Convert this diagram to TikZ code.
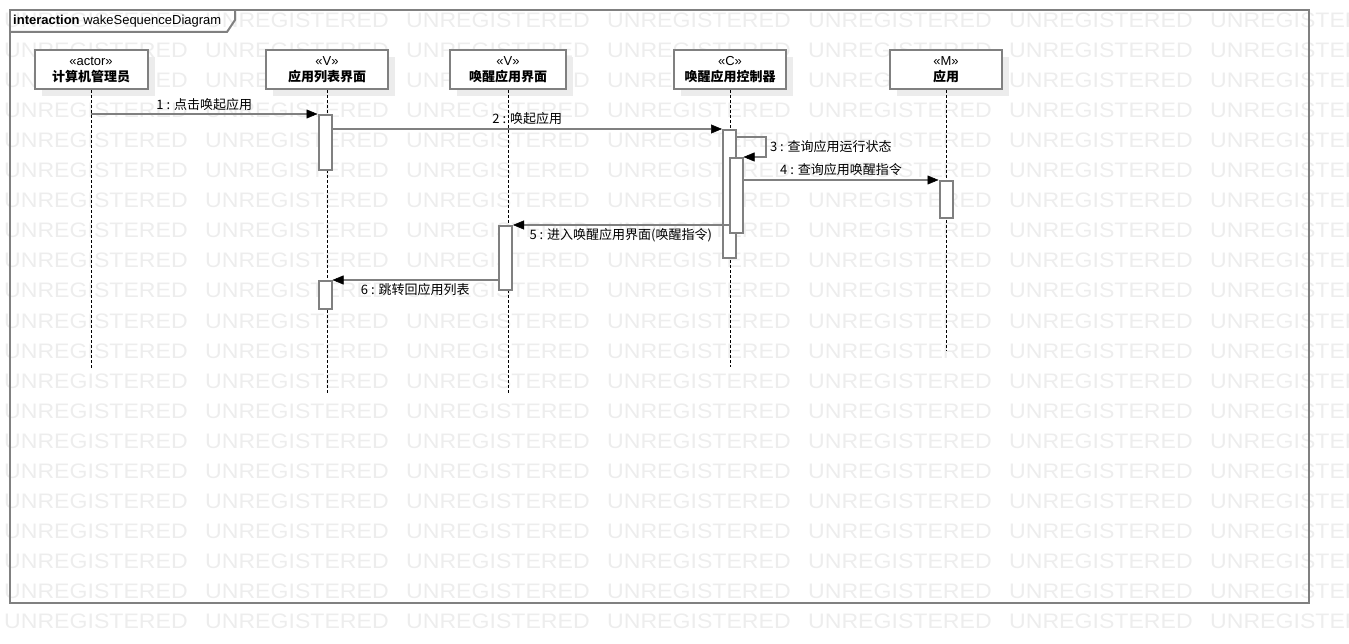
\documentclass[tikz,border=0pt]{standalone}
\usepackage{graphicx}
\usepackage{fontspec}
\setmainfont{Liberation Sans}
\newfontfamily\cjk{Noto Sans CJK SC}
\usetikzlibrary{arrows.meta,shadows,calc}
\definecolor{lgray}{RGB}{128,128,128}
\definecolor{wm}{RGB}{237,237,237}
\definecolor{shd}{RGB}{236,236,236}
\tikzset{
  frame/.style={draw=lgray,line width=2pt},
  head/.style={draw=lgray,line width=2pt,fill=white,minimum height=39pt,inner sep=0pt,
    align=center,font=\fontsize{13}{16}\selectfont,
    drop shadow={shadow xshift=7pt,shadow yshift=-7pt,fill=shd,opacity=1}},
  lifeline/.style={draw=black,line width=1pt,dash pattern=on 3pt off 2pt},
  actbar/.style={draw=lgray,line width=2pt,fill=white,minimum width=13pt,inner sep=0pt},
  msg/.style={draw=lgray,line width=2pt,-{Triangle[length=11pt,width=9pt,black,line width=0.5pt]}},
  lbl/.style={font=\cjk\fontsize{13}{15}\selectfont,inner sep=0pt,text=black},
  wmk/.style={anchor=base west,inner sep=0pt,text=wm,font=\fontsize{21}{21}\selectfont}
}
\begin{document}
\begin{tikzpicture}[x=1pt,y=-1pt]
\useasboundingbox (0,0) rectangle (1349,644);
% watermark
\begin{scope}
\clip (0,0) rectangle (1349,644);
\foreach \r in {0,...,20}{
  \foreach \c in {0,...,6}{
    \node[wmk] (w\r-\c) at ({4+201*\c},{28+30*\r}) {\scalebox{1.1}[1]{UNREGISTERED}};
  }
}
\end{scope}
% frame
\draw[frame] (10,10) rectangle (1309,603);
\draw[frame] (10,32) -- (227,32) -- (235,20) -- (235,10);
\node[anchor=base west,inner sep=0pt,font=\fontsize{13}{15}\selectfont] (title) at (13,25) {\textbf{interaction} wakeSequenceDiagram};
% heads
\node[head,minimum width=113pt] (hA) at (91,69.5) {«actor»\\ \textbf{\cjk 计算机管理员}};
\node[head,minimum width=122pt] (hL) at (327,69.5) {«V»\\ \textbf{\cjk 应用列表界面}};
\node[head,minimum width=116pt] (hW) at (508,69.5) {«V»\\ \textbf{\cjk 唤醒应用界面}};
\node[head,minimum width=112pt] (hC) at (730,69.5) {«C»\\ \textbf{\cjk 唤醒应用控制器}};
\node[head,minimum width=112pt] (hM) at (946,69.5) {«M»\\ \textbf{\cjk 应用}};
% lifeline ends
\coordinate (eA) at (91,368);
\coordinate (eL) at (327,393);
\coordinate (eW) at (508,393);
\coordinate (eC) at (730,367);
\coordinate (eM) at (946,351);
\draw[lifeline] (hA.south) -- (eA);
\draw[lifeline] (hL.south) -- (eL);
\draw[lifeline] (hW.south) -- (eW);
\draw[lifeline] (hC.south) -- (eC);
\draw[lifeline] (hM.south) -- (eM);
% activation bars
\node[actbar,minimum height=55pt] (b1) at (325,142.5) {};
\node[actbar,minimum height=28pt] (b2) at (325,295) {};
\node[actbar,minimum height=64pt] (bW) at (505.5,258) {};
\node[actbar,minimum height=128pt] (bC) at (729.5,194) {};
\node[actbar,minimum height=75pt] (bCi) at (736,195.5) {};
\node[actbar,minimum height=37pt] (bM) at (946,199.5) {};
% messages
\draw[msg] (hA.south |- b1.north) -- node[lbl,yshift=9pt]{1 : 点击唤起应用} (b1.north west);
\draw[msg] (b1.east |- bC.north) -- node[lbl,yshift=10pt]{2 : 唤起应用} (bC.north west);
\coordinate (s3a) at (766,137);
\coordinate (s3b) at (766,157);
\draw[msg] (bC.east |- s3a) -- (s3a) -- node[lbl,anchor=west,xshift=3pt]{3 : 查询应用运行状态} (s3b) -- (bCi.east |- s3b);
\draw[msg] (bCi.east |- bM.north) -- node[lbl,yshift=10pt]{4 : 查询应用唤醒指令} (bM.north west);
\draw[msg] (bCi.west |- bW.north) -- node[lbl,yshift=-10pt]{5 : 进入唤醒应用界面(唤醒指令)} (bW.north east);
\draw[msg] (bW.west |- b2.north) -- node[lbl,yshift=-10pt]{6 : 跳转回应用列表} (b2.north east);
\end{tikzpicture}
\end{document}
